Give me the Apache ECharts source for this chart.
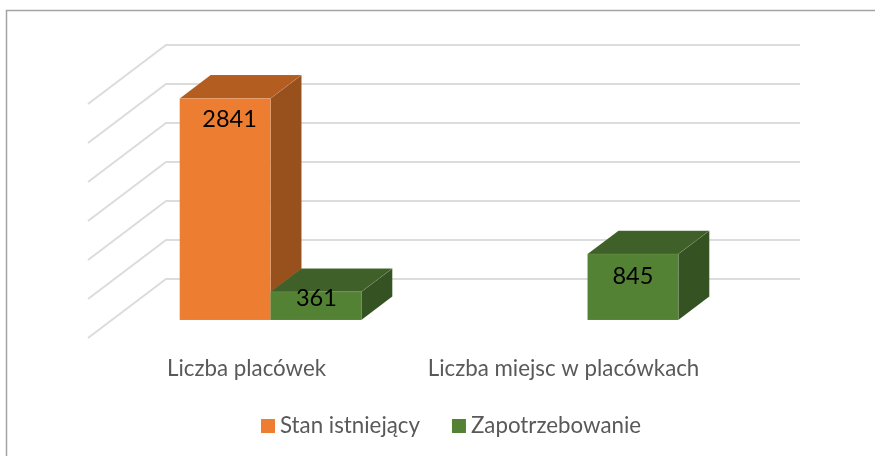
<!DOCTYPE html>
<html>
<head>
<meta charset="utf-8">
<style>html,body{margin:0;padding:0;background:#fff}#c{width:875px;height:456px}</style>
<script src="https://cdn.jsdelivr.net/npm/echarts@6/dist/echarts.min.js"></script>
</head>
<body>
<div id="c"></div>
<script>
const categories = ['Liczba placówek', 'Liczba miejsc w placówkach'];
const seriesNames = ['Stan istniejący', 'Zapotrzebowanie'];
const stanIstniejacy = [2841, null];
const zapotrzebowanie = [361, 845];
const yTicks = [0, 500, 1000, 1500, 2000, 2500, 3000];

// Oblique projection of the 3D column chart
const BAR_OFFSET = [24, -18];   // floor front edge -> bar front face
const BAR_DEPTH = [31, -23.4];  // bar front face -> bar back face
const WALL_DEPTH = [78, -59];   // floor front edge -> back wall
const BAR_FRACTION = 0.2865;    // bar width as part of a category band
const FACES = [
  { front: '#ED7D31', top: '#B45D21', side: '#98501D' },
  { front: '#548235', top: '#3F6129', side: '#355222' }
];
// label nudges relative to bar centre / bar top: [seriesIndex][categoryIndex]
const LABEL_NUDGE = [
  [[4.5, 21], null],
  [[0.5, 6.5], [0, 22.5]]
];

const chart = echarts.init(document.getElementById('c'), null, { renderer: 'canvas' });

function renderBar(seriesIdx) {
  return function (params, api) {
    const v = api.value(1);
    if (v === null || v === undefined || isNaN(v)) return null;
    const cat = api.value(0);
    const base = api.coord([cat, 0]);
    const top = api.coord([cat, v]);
    const w = api.size([1, 0])[0] * BAR_FRACTION;
    const x0 = base[0] + BAR_OFFSET[0] + (seriesIdx === 0 ? -w : 0);
    const x1 = x0 + w;
    const yb = base[1] + BAR_OFFSET[1];
    const yt = top[1] + BAR_OFFSET[1];
    const dx = BAR_DEPTH[0], dy = BAR_DEPTH[1];
    const c = FACES[seriesIdx];
    const edge = { stroke: 'rgba(255,255,255,0.12)', lineWidth: 0.6 };
    const nudge = LABEL_NUDGE[seriesIdx][cat] || [0, 20];
    return {
      type: 'group',
      children: [
        { type: 'polygon', shape: { points: [[x1, yb], [x1 + dx, yb + dy], [x1 + dx, yt + dy], [x1, yt]] },
          style: Object.assign({ fill: c.side }, edge) },
        { type: 'polygon', shape: { points: [[x0, yt], [x1, yt], [x1 + dx, yt + dy], [x0 + dx, yt + dy]] },
          style: Object.assign({ fill: c.top }, edge) },
        { type: 'rect', shape: { x: x0, y: yt, width: w, height: yb - yt },
          style: Object.assign({ fill: c.front }, edge) },
        { type: 'text', x: (x0 + x1) / 2 + nudge[0], y: yt + nudge[1],
          style: { text: String(v), fill: '#000', font: '23.5px Lato', align: 'center', verticalAlign: 'middle' } }
      ]
    };
  };
}

function renderGrid(params, api) {
  const tick = api.value(1);
  const cs = params.coordSys;
  const y = api.coord([0, tick])[1];
  const x0 = cs.x, x1 = cs.x + cs.width;
  return {
    type: 'polyline',
    shape: { points: [[x0, y], [x0 + WALL_DEPTH[0], y + WALL_DEPTH[1]], [x1 + WALL_DEPTH[0], y + WALL_DEPTH[1]]] },
    style: { stroke: '#DCDCDC', lineWidth: 2, fill: null },
    silent: true
  };
}

chart.setOption({
  animation: false,
  backgroundColor: '#fff',
  graphic: [{
    type: 'polyline',
    shape: { points: [[6.5, 456], [6.5, 10.5], [875, 10.5]] },
    style: { stroke: '#A3A3A3', lineWidth: 1.5, fill: null },
    silent: true
  }],
  legend: {
    data: seriesNames,
    left: 256,
    top: 410,
    icon: 'rect',
    itemWidth: 14,
    itemHeight: 14,
    itemGap: 32,
    textStyle: { color: '#595959', fontFamily: 'Lato', fontSize: 22.3 },
    selectedMode: false
  },
  grid: { left: 88, top: 104, width: 634, height: 234 },
  xAxis: {
    type: 'category',
    data: categories,
    axisLine: { show: false },
    axisTick: { show: false },
    axisLabel: { color: '#595959', fontFamily: 'Lato', fontSize: 22.3, margin: 20, interval: 0, hideOverlap: false }
  },
  yAxis: {
    type: 'value',
    min: 0,
    max: 3000,
    interval: 500,
    axisLine: { show: false },
    axisTick: { show: false },
    axisLabel: { show: false },
    splitLine: { show: false }
  },
  series: [
    { type: 'custom', name: 'Siatka', renderItem: renderGrid, silent: true, z: 1,
      data: yTicks.map(t => [0, t]), encode: { x: 0, y: 1 } },
    { type: 'custom', name: seriesNames[0], renderItem: renderBar(0), z: 2,
      itemStyle: { color: FACES[0].front },
      data: stanIstniejacy.map((v, i) => [i, v]), encode: { x: 0, y: 1 } },
    { type: 'custom', name: seriesNames[1], renderItem: renderBar(1), z: 3,
      itemStyle: { color: FACES[1].front },
      data: zapotrzebowanie.map((v, i) => [i, v]), encode: { x: 0, y: 1 } }
  ]
});
</script>
</body>
</html>
